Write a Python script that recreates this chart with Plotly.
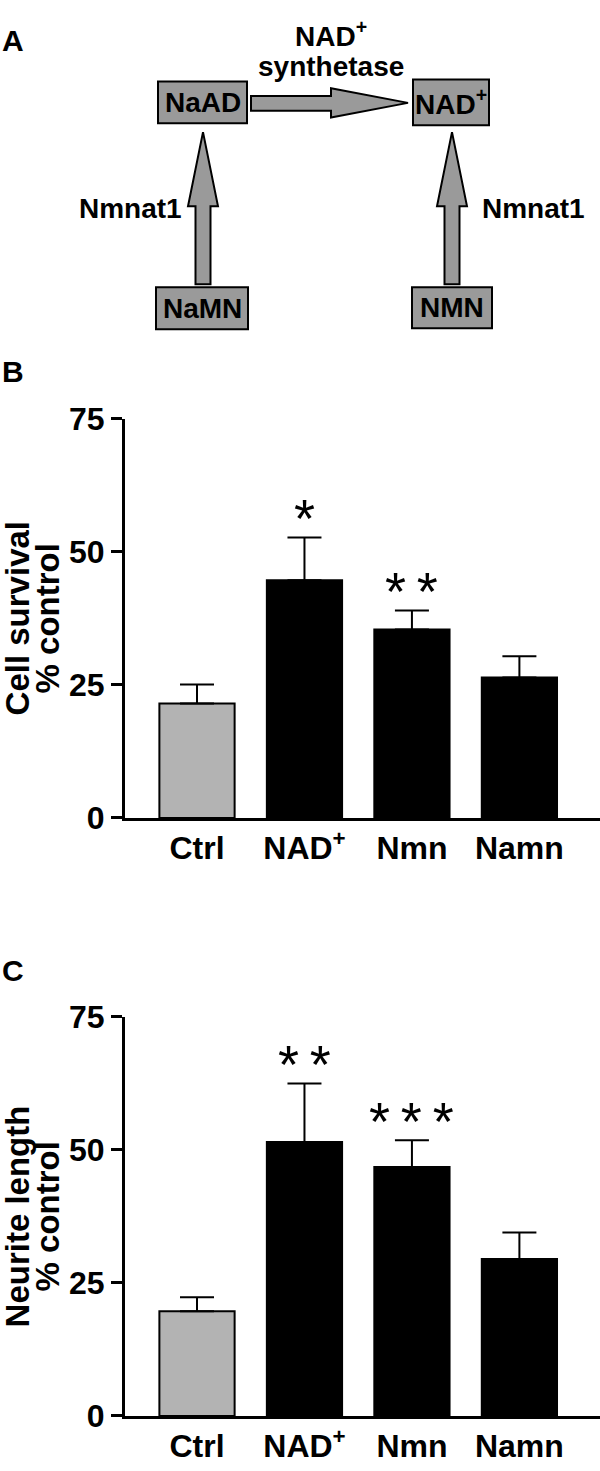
import plotly.graph_objects as go

W, H = 600, 1471

# bar chart data
categories = ["Ctrl", "NAD<sup>+</sup>", "Nmn", "Namn"]
survival_mean = [21.5, 44.7, 35.4, 26.4]
survival_sem = [3.6, 8.0, 3.6, 4.0]
survival_stars = ["", "*", "**", ""]
neurite_mean = [19.7, 51.5, 46.8, 29.5]
neurite_sem = [2.6, 11.0, 5.0, 5.0]
neurite_stars = ["", "**", "***", ""]
y_ticks = [0, 25, 50, 75]

FONT = "Liberation Sans, Arial, sans-serif"
GREY = "#9a9a9a"
bar_colors = ["#b3b3b3", "black", "black", "black"]


def py(p):
    # pixel row -> paper y
    return 1 - p / H


fig = go.Figure()

panels = [
    ("x", "y", survival_mean, survival_sem, survival_stars, ["Cell survival", "% control"], (411, 820)),
    ("x2", "y2", neurite_mean, neurite_sem, neurite_stars, ["Neurite length", "% control"], (1024, 1433)),
]

annotations = []
for xa, ya, mean, sem, stars, title, (top, bot) in panels:
    fig.add_trace(go.Bar(
        x=categories, y=mean, width=0.7,
        marker=dict(color=bar_colors, line=dict(color="black", width=2)),
        error_y=dict(type="data", array=sem, arrayminus=[0] * len(sem), symmetric=False,
                     color="black", thickness=2, width=17),
        xaxis=xa, yaxis=ya, showlegend=False,
    ))
    for c, m, s, st in zip(categories, mean, sem, stars):
        if st:
            annotations.append(dict(
                x=c, y=m + s + 3.6, xref=xa, yref=ya, text="\u2009".join(st), showarrow=False,
                xanchor="center", yanchor="middle",
                font=dict(family=FONT, size=54, color="black"),
            ))
    # two-line rotated axis title, one annotation per line
    for line, xc in zip(title, [17, 47]):
        annotations.append(dict(
            x=xc / W, y=py((top + bot) / 2), xref="paper", yref="paper", text=line,
            textangle=-90, showarrow=False, xanchor="center", yanchor="middle",
            font=dict(family=FONT, size=33, color="black", weight="bold"),
        ))

axis_x = dict(domain=[125 / W, 1], range=[-0.67, 3.75], showline=True, linewidth=3,
              linecolor="black", ticks="", showgrid=False,
              tickfont=dict(family=FONT, size=32, color="black", weight="bold"))
axis_y = dict(range=[0, 75], tickvals=y_ticks, showline=True, linewidth=3, linecolor="black",
              ticks="outside", ticklen=11, tickwidth=3, tickcolor="black",
              showgrid=False, zeroline=False,
              tickfont=dict(family=FONT, size=32, color="black", weight="bold"))

# panel letters
for letter, top in [("A", 4), ("B", 343), ("C", 957)]:
    annotations.append(dict(
        x=0, y=py(top), xref="paper", yref="paper", text=letter, showarrow=False,
        xanchor="left", yanchor="top",
        font=dict(family=FONT, size=30, color="black", weight="bold"),
    ))

# panel A: pathway diagram drawn in a hidden pixel-like axis
shapes = []
boxes = [
    ("NaAD", 158, 65, 247, 108),
    ("NAD<sup>+</sup>", 413, 63, 489, 110),
    ("NaMN", 156, 276, 248, 319),
    ("NMN", 412, 276, 492, 318),
]
for label, x0, y0, x1, y1 in boxes:
    shapes.append(dict(type="rect", xref="x3", yref="y3", x0=x0, y0=y0, x1=x1, y1=y1,
                       fillcolor=GREY, line=dict(color="black", width=2)))
    annotations.append(dict(x=(x0 + x1) / 2, y=(y0 + y1) / 2, xref="x3", yref="y3",
                            text=label, showarrow=False, xanchor="center", yanchor="middle",
                            font=dict(family=FONT, size=28, color="black", weight="bold")))

arrow_paths = [
    "M 251,80 L 331,80 L 331,72 L 408,87 L 331,102 L 331,95 L 251,95 Z",
    "M 195.5,273 L 195.5,193 L 188,193 L 203,117 L 218,193 L 210.5,193 L 210.5,273 Z",
    "M 444.5,273 L 444.5,193 L 437,193 L 452,117 L 467,193 L 459.5,193 L 459.5,273 Z",
]
for p in arrow_paths:
    shapes.append(dict(type="path", xref="x3", yref="y3", path=p,
                       fillcolor=GREY, line=dict(color="black", width=2)))

diagram_text = [
    ("NAD<sup>+</sup>", 331, 16),
    ("synthetase", 331, 50),
    ("Nmnat1", 130, 195),
    ("Nmnat1", 533, 195),
]
for t, x, y in diagram_text:
    annotations.append(dict(x=x, y=y, xref="x3", yref="y3", text=t, showarrow=False,
                            xanchor="center", yanchor="middle",
                            font=dict(family=FONT, size=28, color="black", weight="bold")))

fig.update_layout(
    width=W, height=H, margin=dict(l=0, r=0, t=0, b=0),
    paper_bgcolor="white", plot_bgcolor="white",
    xaxis=dict(axis_x, anchor="y"),
    yaxis=dict(axis_y, domain=[py(820), py(411)], anchor="x"),
    xaxis2=dict(axis_x, anchor="y2"),
    yaxis2=dict(axis_y, domain=[py(1433), py(1024)], anchor="x2"),
    xaxis3=dict(domain=[0, 1], range=[0, W], visible=False, anchor="y3"),
    yaxis3=dict(domain=[py(340), 1], range=[340, 0], visible=False, anchor="x3"),
    shapes=shapes, annotations=annotations, bargap=0.3,
)

fig.write_html("out.html", config={"displayModeBar": False},
               post_script="document.body.style.margin='0';document.body.style.overflow='hidden';")
